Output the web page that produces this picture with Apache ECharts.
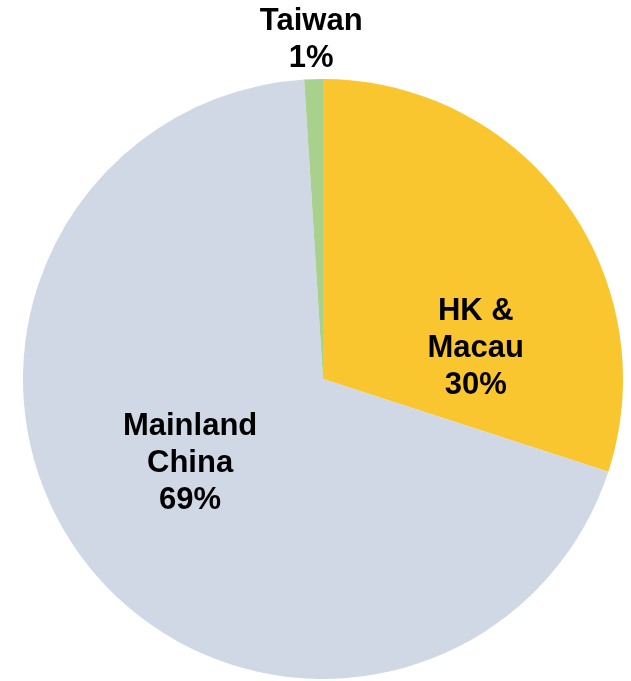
<!DOCTYPE html>
<html>
<head>
<meta charset="utf-8">
<script src="https://cdn.jsdelivr.net/npm/echarts@6/dist/echarts.min.js"></script>
<style>
html,body{margin:0;padding:0;background:#fff;}
#chart{width:631px;height:681px;}
</style>
</head>
<body>
<div id="chart"></div>
<script>
// Sales share by region
const regions = ['HK &\nMacau', 'Mainland\nChina', 'Taiwan'];
const shares = [30, 69, 1];
const sliceColors = ['#F9C62F', '#D0D8E6', '#A9D18E'];
// label nudges from the default inner anchor
const labelOffsets = [[29, 59], [-12, -9], [-7, -186]];

const chart = echarts.init(document.getElementById('chart'), null, {renderer: 'canvas'});
chart.setOption({
  animation: false,
  series: [{
    type: 'pie',
    center: [323, 379],
    radius: 300,
    startAngle: 90,
    clockwise: true,
    label: {
      position: 'inside',
      color: '#000',
      fontFamily: 'Liberation Sans, Arial, sans-serif',
      fontWeight: 'bold',
      fontSize: 31,
      lineHeight: 37,
      align: 'center',
      formatter: p => p.name + '\n' + p.value + '%'
    },
    labelLine: {show: false},
    emphasis: {disabled: true},
    data: regions.map((name, i) => ({
      name: name,
      value: shares[i],
      itemStyle: {color: sliceColors[i]},
      label: {offset: labelOffsets[i]}
    }))
  }]
});
</script>
</body>
</html>
